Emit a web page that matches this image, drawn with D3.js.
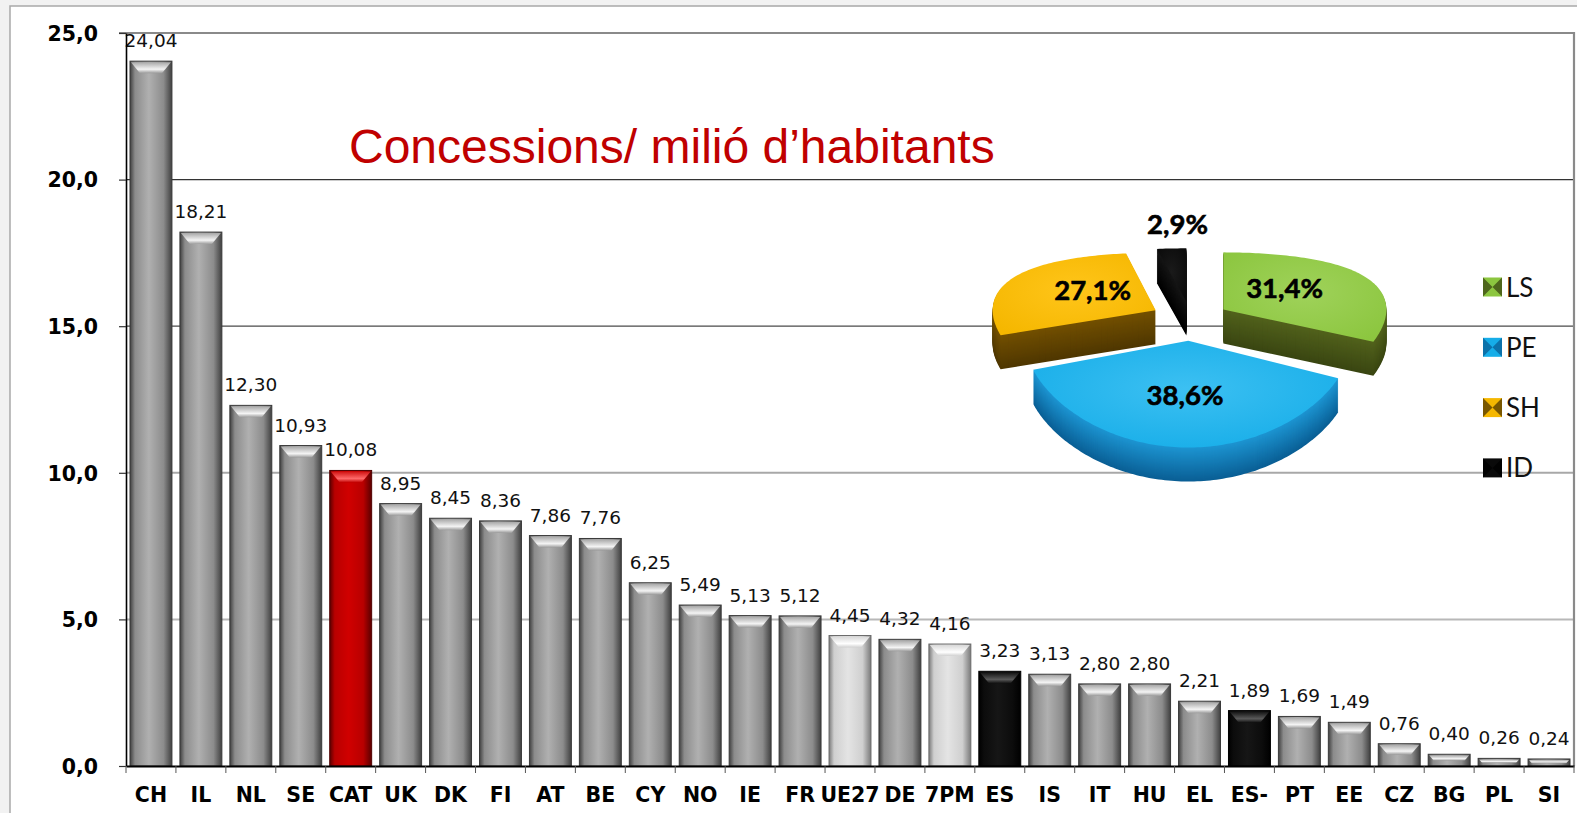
<!DOCTYPE html>
<html><head><meta charset="utf-8">
<script src="https://cdn.jsdelivr.net/npm/d3@7"></script>
<style>
html,body{margin:0;padding:0;background:#f2f2f2;overflow:hidden}
svg{display:block}
</style></head><body>
<svg id="c" width="1577" height="813"></svg>
<script>
// ---------- data ----------
const categories = ["CH","IL","NL","SE","CAT","UK","DK","FI","AT","BE","CY","NO","IE","FR","UE27","DE","7PM","ES","IS","IT","HU","EL","ES-","PT","EE","CZ","BG","PL","SI"];
const values = [24.04,18.21,12.30,10.93,10.08,8.95,8.45,8.36,7.86,7.76,6.25,5.49,5.13,5.12,4.45,4.32,4.16,3.23,3.13,2.80,2.80,2.21,1.89,1.69,1.49,0.76,0.40,0.26,0.24];
const yTicks = [0,5,10,15,20,25];
const pieLabels = ["LS","PE","SH","ID"];
const pieValues = [31.4,38.6,27.1,2.9];
const titleText = "Concessions/ milió d’habitants";

// ---------- styles ----------
const barStyleOf = {"CAT":"red","UE27":"light","7PM":"light","ES":"black","ES-":"black"};
const palettes = {
  gray:  {edge:"#404040", mid:"#8c8c8c", light:"#b0b0b0", capTop:"#a8a8a8", capHi:"#f4f4f4", capLow:"#9a9a9a", stroke:"#3a3a3a"},
  red:   {edge:"#5a0000", mid:"#b80000", light:"#d00000", capTop:"#d01010", capHi:"#ff6a6a", capLow:"#c00000", stroke:"#500000"},
  light: {edge:"#7a7a7a", mid:"#cfcfcf", light:"#e4e4e4", capTop:"#d8d8d8", capHi:"#ffffff", capLow:"#d0d0d0", stroke:"#6a6a6a"},
  black: {edge:"#000000", mid:"#0c0c0c", light:"#161616", capTop:"#111111", capHi:"#5a5a5a", capLow:"#101010", stroke:"#000000"}
};
const pieTop  = {LS:"#8cc63f", PE:"#16ade8", SH:"#f5b700", ID:"#0a0a0a"};
const pieTopHi= {LS:"#9fd25a", PE:"#3cc0f2", SH:"#ffc51a", ID:"#1a1a1a"};
const pieSideA= {LS:"#52621c", PE:"#1d95d2", SH:"#735000", ID:"#151515"};
const pieSideB= {LS:"#3a4612", PE:"#0a5f95", SH:"#4f3700", ID:"#000000"};

const W = 1577, H = 813;
const svg = d3.select("#c");
const defs = svg.append("defs");
const locale = d3.formatLocale({decimal:",", thousands:".", grouping:[3], currency:["","€"]});
const fmt1 = locale.format(".1f"), fmt2 = locale.format(".2f");

// outer frame
svg.append("rect").attr("x",10).attr("y",6).attr("width",W).attr("height",H)
  .attr("fill","#fff").attr("stroke","#a9a9a9").attr("stroke-width",1.5);

const m = {left:126, right:1574, top:33, bottom:766};
const x = d3.scaleBand().domain(categories).range([m.left, m.right]).paddingInner(0.16).paddingOuter(0.08);
const y = d3.scaleLinear().domain([0,25]).range([m.bottom, m.top]);

// gridlines
const gridStyle = {5:["#b8b8b8",2], 10:["#a8a8a8",2], 15:["#4a4a4a",1.3], 20:["#333333",1.4]};
svg.append("g").selectAll("line").data(yTicks.filter(v=>v>0 && v<25)).join("line")
  .attr("x1",m.left).attr("x2",m.right).attr("y1",d=>y(d)).attr("y2",d=>y(d))
  .attr("stroke",d=>gridStyle[d][0]).attr("stroke-width",d=>gridStyle[d][1]);
// top & right border of plot
svg.append("path").attr("d",`M${m.left-7},${y(25)}H${m.right}V${m.bottom}`)
  .attr("fill","none").attr("stroke","#8a8a8a").attr("stroke-width",2.2);

// gradients for bars
Object.entries(palettes).forEach(([k,p])=>{
  const g = defs.append("linearGradient").attr("id","bar-"+k).attr("x1",0).attr("x2",1).attr("y1",0).attr("y2",0);
  [[0,p.edge],[0.12,p.mid],[0.45,p.light],[0.8,p.mid],[1,p.edge]].forEach(([o,c])=>g.append("stop").attr("offset",o).attr("stop-color",c));
  const c = defs.append("linearGradient").attr("id","cap-"+k).attr("x1",0).attr("x2",0).attr("y1",0).attr("y2",1);
  [[0,p.capTop],[0.65,p.capHi],[1,p.capLow]].forEach(([o,cc])=>c.append("stop").attr("offset",o).attr("stop-color",cc));
});

// bars
const rows = categories.map((c,i)=>({c, v:values[i], s:barStyleOf[c]||"gray"}));
const bars = svg.append("g").selectAll("g").data(rows).join("g");
bars.append("rect")
  .attr("x",d=>x(d.c)).attr("width",x.bandwidth())
  .attr("y",d=>y(d.v)).attr("height",d=>y(0)-y(d.v))
  .attr("fill",d=>`url(#bar-${d.s})`).attr("stroke",d=>palettes[d.s].stroke).attr("stroke-width",1);
bars.append("path")
  .attr("d",d=>{
    const x0 = x(d.c)+1, x1 = x(d.c)+x.bandwidth()-1, y0 = y(d.v)+1, h = y(0)-y(d.v);
    const bh = Math.min(11, h*0.45), b = Math.min(9, bh*0.85);
    return `M${x0},${y0}L${x1},${y0}L${x1-b},${y0+bh}L${x0+b},${y0+bh}Z`;
  })
  .attr("fill",d=>`url(#cap-${d.s})`);
// value labels
svg.append("g").selectAll("text").data(rows).join("text")
  .attr("x",d=>x(d.c)+x.bandwidth()/2).attr("y",d=>y(d.v)-14)
  .attr("text-anchor","middle").attr("font-family","DejaVu Sans, Verdana, sans-serif")
  .attr("font-size",18.5).attr("fill","#111").text(d=>fmt2(d.v));

// y axis
const ya = svg.append("g").attr("transform",`translate(${m.left},0)`)
  .call(d3.axisLeft(y).tickValues(yTicks).tickFormat(fmt1).tickSize(7).tickSizeOuter(0).tickPadding(21));
ya.select(".domain").attr("stroke","#000").attr("stroke-width",1.6);
ya.selectAll(".tick line").attr("stroke","#333").attr("stroke-width",1.2);
ya.selectAll(".tick text").attr("font-family","DejaVu Sans, Verdana, sans-serif").attr("font-weight","bold").attr("font-size",20.5).attr("fill","#000").attr("dy","0.36em");

// x axis
const xa = svg.append("g").attr("transform",`translate(0,${m.bottom})`)
  .call(d3.axisBottom(x).tickSize(0).tickSizeOuter(0));
xa.select(".domain").attr("stroke","#000").attr("stroke-width",2);
xa.selectAll(".tick text").attr("y",36).attr("dy",0)
  .attr("font-family","DejaVu Sans, Verdana, sans-serif").attr("font-weight","bold").attr("font-size",20.5).attr("fill","#000");
const step = x.step();
svg.append("g").selectAll("line").data(d3.range(categories.length+1)).join("line")
  .attr("x1",i=>m.left+i*step).attr("x2",i=>m.left+i*step)
  .attr("y1",m.bottom).attr("y2",m.bottom+7).attr("stroke","#555").attr("stroke-width",1);

// title
svg.append("text").attr("x",349).attr("y",163)
  .attr("font-family","Liberation Sans, Arial, sans-serif").attr("font-size",48)
  .attr("fill","#c00000").text(titleText);

// ---------- 3D pie ----------
const R = 163, pcx = 1190, pcy = 320, PA = 80, PB = 18, depth = 34, explodeD = 40;
function proj(X, Z){ const z = Z/R; return [pcx + X, pcy + PA*z + PB*z*z]; }
const arcs = d3.pie().sort(null).value(d=>d)(pieValues).map((a,i)=>Object.assign(a,{label:pieLabels[i]}));
function slicePts(a){
  const mid = (a.startAngle + a.endAngle)/2;
  const ox = explodeD*Math.sin(mid), oz = -explodeD*Math.cos(mid);
  const pts = [proj(ox, oz)];
  const n = Math.max(4, Math.ceil((a.endAngle-a.startAngle)/0.02));
  for (let i=0;i<=n;i++){
    const t = a.startAngle + (a.endAngle-a.startAngle)*i/n;
    pts.push(proj(ox + R*Math.sin(t), oz - R*Math.cos(t)));
  }
  return pts;
}
const line = d3.line().curve(d3.curveLinearClosed);
const pieG = svg.append("g");
const order = ["ID","SH","LS","PE"];
order.forEach(lbl=>{
  const a = arcs.find(d=>d.label===lbl);
  const pts = slicePts(a);
  const col = d3.interpolateRgb(pieSideA[lbl], pieSideB[lbl]);
  const sg = pieG.append("g");
  for (let k=depth;k>=1;k--){
    sg.append("path").attr("d",line(pts.map(p=>[p[0],p[1]+k]))).attr("fill",col(k/depth));
  }
  const gid = "pt-"+lbl;
  const rg = defs.append("radialGradient").attr("id",gid).attr("cx","50%").attr("cy","45%").attr("r","65%");
  rg.append("stop").attr("offset",0).attr("stop-color",pieTopHi[lbl]);
  rg.append("stop").attr("offset",1).attr("stop-color",pieTop[lbl]);
  sg.append("path").attr("d",line(pts)).attr("fill",`url(#${gid})`);
});
// pie labels
arcs.forEach(a=>{
  const mid = (a.startAngle + a.endAngle)/2;
  let px, py;
  if (a.value < 5){
    const r = explodeD + R;
    const p = proj(r*Math.sin(mid), -r*Math.cos(mid));
    px = p[0] + 6; py = p[1] - 24;
  } else {
    const rx = explodeD + R*0.45, ry = explodeD + R*0.55;
    px = proj(rx*Math.sin(mid), 0)[0];
    py = proj(0, -ry*Math.cos(mid))[1];
  }
  pieG.append("text").attr("x",px).attr("y",py+10).attr("text-anchor","middle")
    .attr("font-family","Lato, sans-serif").attr("font-weight","bold").attr("font-size",27.5)
    .attr("stroke","#000").attr("stroke-width",0.6)
    .attr("fill","#000").text(locale.format(".1f")(a.value)+"%");
});

// legend
const lg = svg.append("g").selectAll("g").data(pieLabels).join("g")
  .attr("transform",(d,i)=>`translate(1483,${287+i*60.3})`);
const sz = 19;
lg.append("rect").attr("x",0).attr("y",-sz/2).attr("width",sz).attr("height",sz).attr("fill",d=>pieTop[d]);
lg.append("path").attr("d",`M0,${-sz/2}L${sz/2},0L0,${sz/2}Z M${sz},${-sz/2}L${sz/2},0L${sz},${sz/2}Z`)
  .attr("fill",d=>pieSideB[d]).attr("opacity",0.75);
lg.append("text").attr("x",23).attr("y",9.5).attr("font-family","Lato, sans-serif").attr("font-size",26)
  .attr("fill","#111").text(d=>d);
</script>
</body></html>
